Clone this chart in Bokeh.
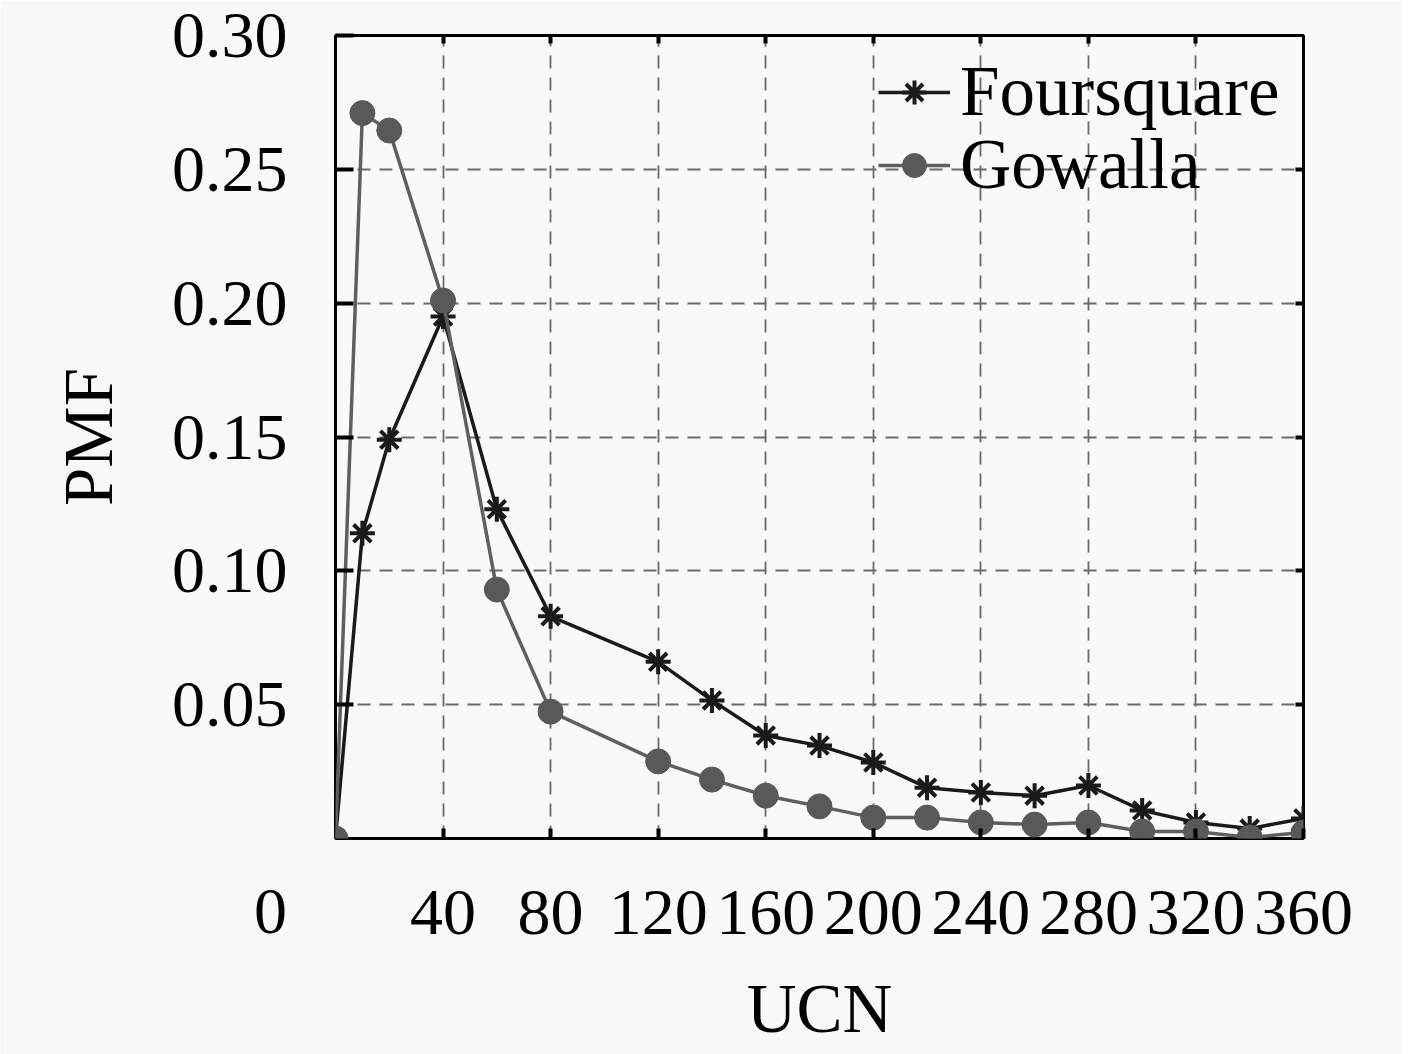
from bokeh.plotting import figure
from bokeh.models import FixedTicker, LinearAxis, Label, Range1d, Legend, LegendItem
from bokeh.embed import file_html
from bokeh.resources import INLINE

ucn = [0, 10, 20, 40, 60, 80, 120, 140, 160, 180, 200, 220, 240, 260, 280, 300, 320, 340, 360]
foursquare = [0.0, 0.114, 0.149, 0.195, 0.123, 0.083, 0.066, 0.0516, 0.0385, 0.0347, 0.0284,
              0.019, 0.0172, 0.016, 0.0198, 0.0105, 0.006, 0.0037, 0.0075]
gowalla = [0.0, 0.271, 0.2645, 0.201, 0.093, 0.0474, 0.0288, 0.022, 0.016, 0.012, 0.0078,
           0.0078, 0.006, 0.0052, 0.006, 0.0026, 0.0026, 0.0004, 0.0022]
x_ticks = [40, 80, 120, 160, 200, 240, 280, 320, 360]
y_ticks = [0.05, 0.10, 0.15, 0.20, 0.25, 0.30]
y_tick_labels = {0.05: "0.05", 0.10: "0.10", 0.15: "0.15", 0.20: "0.20", 0.25: "0.25", 0.30: "0.30"}

FONT = "Liberation Serif"
BG = "#f9f9f9"

p = figure(frame_width=968, frame_height=803, output_backend="svg", toolbar_location=None,
           x_range=Range1d(0, 360), y_range=Range1d(0, 0.30),
           min_border_left=335, min_border_top=35, min_border_right=98, min_border_bottom=200,
           background_fill_color=BG, border_fill_color=BG)
p.outline_line_color = "black"
p.outline_line_width = 3

# grids
p.xgrid.ticker = FixedTicker(ticks=[40, 80, 120, 160, 200, 240, 280, 320])
p.ygrid.ticker = FixedTicker(ticks=[0.05, 0.10, 0.15, 0.20, 0.25])
for g in (p.xgrid, p.ygrid):
    g.grid_line_color = "#6a6a6a"
    g.grid_line_width = 1.8
    g.grid_line_dash = "13 9"

xa = p.xaxis[0]
xa.ticker = FixedTicker(ticks=x_ticks)
xa.axis_label = "UCN"
ya = p.yaxis[0]
ya.ticker = FixedTicker(ticks=y_ticks)
ya.major_label_overrides = y_tick_labels
ya.axis_label = "PMF"
for ax in (xa, ya):
    ax.axis_line_color = None
    ax.major_tick_out = 0
    ax.minor_tick_line_color = None
    ax.major_tick_line_width = 4
    ax.major_tick_line_color = "black"
    ax.major_label_text_font = FONT
    ax.major_label_text_font_size = "66px"
    ax.major_label_text_color = "black"
    ax.axis_label_text_font = FONT
    ax.axis_label_text_font_size = "69px"
    ax.axis_label_text_font_style = "normal"
    ax.axis_label_text_color = "black"
xa.major_tick_in = 10
ya.major_tick_in = 18
xa.major_label_standoff = 52
xa.axis_label_standoff = 34
ya.major_label_standoff = 48
ya.axis_label_standoff = 42

# top and right axes with inward ticks only (no labels drawn)
top = LinearAxis(ticker=FixedTicker(ticks=x_ticks[:-1]), major_label_text_font_size="1px",
                 major_label_text_color=None, axis_line_color=None, major_tick_in=8,
                 major_tick_out=0, major_tick_line_width=4, minor_tick_line_color=None,
                 major_label_standoff=0)
right = LinearAxis(ticker=FixedTicker(ticks=y_ticks[:-1]), major_label_text_font_size="1px",
                   major_label_text_color=None, axis_line_color=None, major_tick_in=8,
                   major_tick_out=0, major_tick_line_width=4, minor_tick_line_color=None,
                   major_label_standoff=0)
p.add_layout(top, "above")
p.add_layout(right, "right")

# data
fl = p.line(ucn, foursquare, line_color="#1a1a1a", line_width=3.5)
fm = p.scatter(ucn, foursquare, marker="asterisk", size=25, line_color="#1a1a1a", line_width=4)
gl = p.line(ucn, gowalla, line_color="#5f5f5f", line_width=3.5)
gm = p.scatter(ucn, gowalla, marker="circle", size=25, fill_color="#595959", line_color="#595959")

legend_style = dict(border_line_color=None, background_fill_alpha=0, label_text_font=FONT,
                    label_text_font_size="71px", label_text_color="black", glyph_width=72,
                    glyph_height=60, label_standoff=10, padding=0, margin=0)
p.add_layout(Legend(items=[LegendItem(label="Foursquare", renderers=[fl, fm])],
                    location=(543, 706), **legend_style))
p.add_layout(Legend(items=[LegendItem(label="Gowalla", renderers=[gl, gm])],
                    location=(543, 633), **legend_style))

# origin label of the x axis, left of the frame corner
p.add_layout(Label(x=270, y=911, x_units="canvas", y_units="canvas", text="0", text_font=FONT,
                   text_font_size="66px", text_align="center", text_baseline="alphabetic",
                   text_color="black"), "below")

open("out.html", "w").write(file_html(p, INLINE))
